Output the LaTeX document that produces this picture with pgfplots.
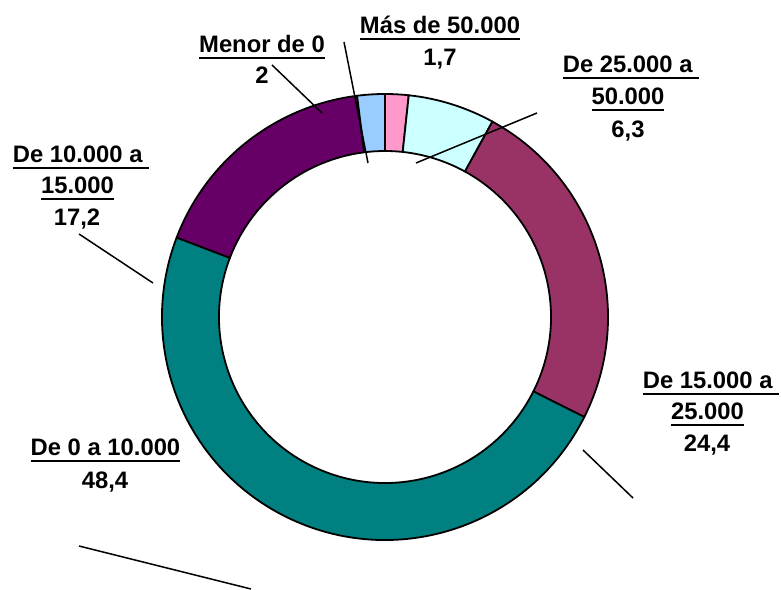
\documentclass[border=0pt]{standalone}
\usepackage{pgfplots}
\pgfplotsset{compat=1.18}
\usepackage{fontspec}
\setmainfont{Liberation Sans}

\definecolor{cpink}{HTML}{FF99CC}
\definecolor{ccyan}{HTML}{CCFFFF}
\definecolor{cmauve}{HTML}{993366}
\definecolor{cteal}{HTML}{008080}
\definecolor{cpurple}{HTML}{660066}
\definecolor{cblue}{HTML}{99CCFF}

% underlined label text
\newcommand\ul[1]{\setbox0\hbox{#1}\rlap{\rule[-3.1pt]{\wd0}{1pt}}\box0}
\newcommand\lbl[3]{\node[anchor=base,inner sep=0pt] at (axis cs:#1,#2) {#3};}

\begin{document}
\begin{tikzpicture}
\path[use as bounding box] (0,0) rectangle (390.5pt,294.5pt);
\begin{axis}[
  at={(0,0)}, anchor=origin,
  scale only axis, width=390.5pt, height=294.5pt,
  xmin=0, xmax=781, ymin=0, ymax=589,
  hide axis, clip=false,
  font=\fontsize{11.9}{14}\selectfont\bfseries,
]
% donut: values in percent, clockwise from 12 o'clock
\gdef\cum{0}
\foreach \v/\c in {1.7/cpink, 6.3/ccyan, 24.4/cmauve, 48.4/cteal, 17.2/cpurple, 2/cblue}{
  \pgfmathsetmacro\aa{90-3.6*\cum}
  \pgfmathsetmacro\bb{90-3.6*(\cum+\v)}
  \edef\temp{\noexpand\filldraw[shift={(axis cs:385,272)},fill=\c,draw=black,line width=0.9pt,line join=round]
    (\aa:111.5pt) arc[start angle=\aa, end angle=\bb, radius=111.5pt]
    -- (\bb:83pt) arc[start angle=\bb, end angle=\aa, radius=83pt] -- cycle;}
  \temp
  \pgfmathsetmacro\nc{\cum+\v}
  \xdef\cum{\nc}
}
% leader lines
\addplot[black, line width=0.75pt] coordinates {(272,524) (322,476)};
\addplot[black, line width=0.75pt] coordinates {(344,547) (368,426)};
\addplot[black, line width=0.75pt] coordinates {(537,476) (416,426)};
\addplot[black, line width=0.75pt] coordinates {(79,355) (153,306)};
\addplot[black, line width=0.75pt] coordinates {(583,139) (633,91)};
\addplot[black, line width=0.75pt] coordinates {(79,43) (251,0)};
% labels
\lbl{262}{536.5}{\ul{Menor de 0}}
\lbl{262}{505}{2}
\lbl{440}{555.5}{\ul{Más de 50.000}}
\lbl{440}{523}{1,7}
\lbl{631}{516.5}{\ul{De 25.000 a\ }}
\lbl{628}{484.5}{\ul{50.000}}
\lbl{628}{451.5}{6,3}
\lbl{81}{426.5}{\ul{De 10.000 a\ }}
\lbl{77.5}{395.5}{\ul{15.000}}
\lbl{77}{363.5}{17,2}
\lbl{711}{200.5}{\ul{De 15.000 a\ }}
\lbl{707.5}{169.5}{\ul{25.000}}
\lbl{707}{137.5}{24,4}
\lbl{105.5}{133.5}{\ul{De 0 a 10.000}}
\lbl{105}{100.5}{48,4}
\end{axis}
\end{tikzpicture}
\end{document}
